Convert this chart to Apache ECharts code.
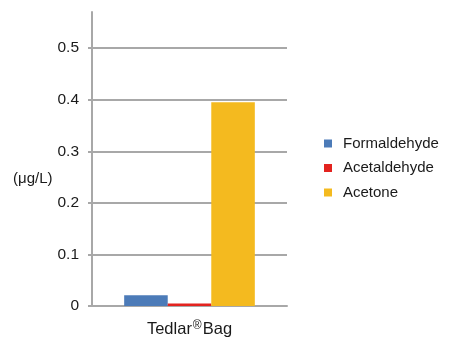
<!DOCTYPE html>
<html><head><meta charset="utf-8">
<script src="https://cdn.jsdelivr.net/npm/echarts@6/dist/echarts.min.js"></script>
<style>html,body{margin:0;padding:0;background:#fff}#c{width:451px;height:338px}</style>
</head><body><div id="c"></div>
<script>
const categories = ['Tedlar®Bag'];
const seriesNames = ['Formaldehyde', 'Acetaldehyde', 'Acetone'];
const formaldehyde = [0.021];
const acetaldehyde = [0.005];
const acetone = [0.395];
const yTicks = [0, 0.1, 0.2, 0.3, 0.4, 0.5];
const yUnit = '(μg/L)';

const colors = ['#4c7bb8', '#e3231f', '#f4ba1f'];
const seriesData = [formaldehyde, acetaldehyde, acetone];
const font = '"Liberation Sans", Arial, Helvetica, sans-serif';
const gridColor = '#a8a8a8';

const chart = echarts.init(document.getElementById('c'), null, {renderer: 'canvas'});
chart.setOption({
  animation: false,
  color: colors,
  textStyle: {fontFamily: font},
  title: {
    text: yUnit, left: 8, top: 166,
    textStyle: {fontSize: 15, fontWeight: 'normal', color: '#1a1a1a', fontFamily: font}
  },
  legend: {
    orient: 'vertical', left: 319, top: 131,
    itemWidth: 20, itemHeight: 8, itemGap: 9.5,
    icon: 'path://M0,0h10v10h-10z',
    textStyle: {fontSize: 15, color: '#1a1a1a', fontFamily: font},
    data: seriesNames
  },
  grid: {left: 92, right: 164, top: 12, bottom: 31, containLabel: false},
  xAxis: {
    type: 'category', data: categories,
    axisLine: {lineStyle: {color: gridColor, width: 2}},
    axisTick: {show: false},
    axisLabel: {
      margin: 14,
      formatter: function (v) { const p = v.split('®'); return '{a|' + p[0] + '}{s|®}{a|' + p[1] + '}'; },
      rich: {
        a: {fontSize: 16.5, color: '#1a1a1a', fontFamily: font, lineHeight: 18},
        s: {fontSize: 12, color: '#1a1a1a', fontFamily: font, verticalAlign: 'top', lineHeight: 18, padding: [0, 1, 6, 1]}
      }
    }
  },
  yAxis: {
    type: 'value', min: 0, max: 0.57, interval: 0.1,
    axisLine: {show: true, lineStyle: {color: gridColor, width: 2}},
    axisTick: {show: true, length: 4, lineStyle: {color: gridColor, width: 2}, customValues: yTicks},
    splitLine: {show: true, lineStyle: {color: gridColor, width: 2}},
    axisLabel: {
      margin: 13, fontSize: 15.5, color: '#1a1a1a', fontFamily: font,
      customValues: yTicks,
      formatter: function (v) { return v === 0 ? '0' : v.toFixed(1); }
    }
  },
  series: seriesNames.map((n, i) => ({
    name: n, type: 'bar', data: seriesData[i],
    barGap: '0%', barCategoryGap: '33%'
  }))
});
</script></body></html>
